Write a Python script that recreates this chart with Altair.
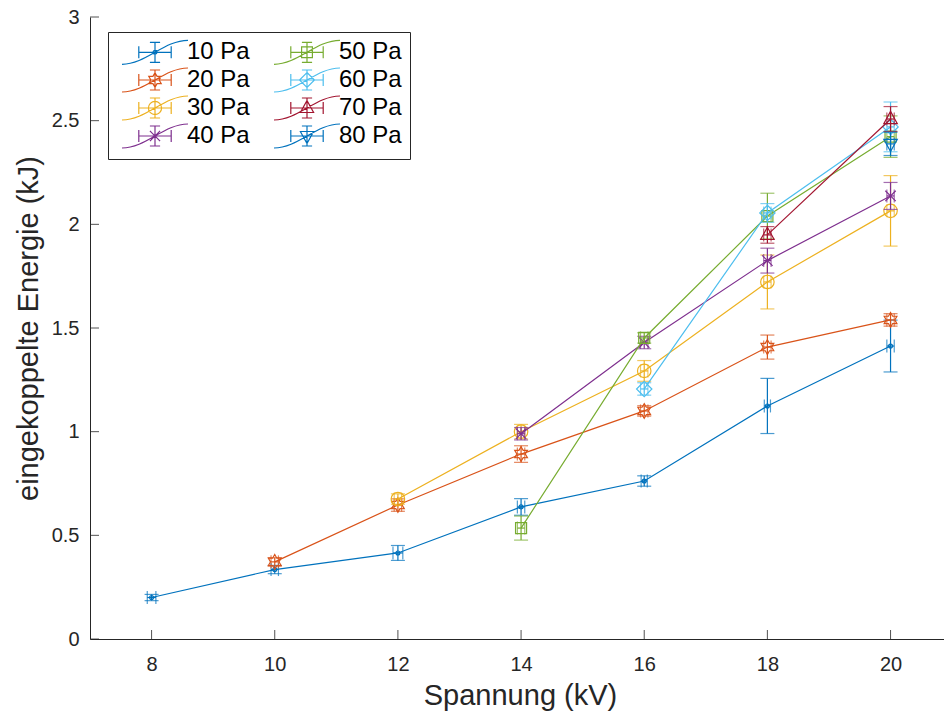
import math
import altair as alt
import pandas as pd

# ---------------- data ----------------
series_names = ["10 Pa", "20 Pa", "30 Pa", "40 Pa", "50 Pa", "60 Pa", "70 Pa", "80 Pa"]
series_colors = ["#0072BD", "#D95319", "#EDB120", "#7E2F8E",
                 "#77AC30", "#4DBEEE", "#A2142F", "#0072BD"]

x_10 = [8, 10, 12, 14, 16, 18, 20]
y_10 = [0.200, 0.335, 0.415, 0.637, 0.762, 1.124, 1.413]
yerr_10 = [0.015, 0.020, 0.036, 0.040, 0.025, 0.133, 0.125]
xerr_10 = [0.07, 0.06, 0.08, 0.06, 0.05, 0.05, 0.06]

x_20 = [10, 12, 14, 16, 18, 20]
y_20 = [0.372, 0.646, 0.892, 1.100, 1.408, 1.539]
yerr_20 = [0.020, 0.030, 0.040, 0.025, 0.058, 0.030]
xerr_20 = [0.06, 0.06, 0.06, 0.06, 0.06, 0.06]

x_30 = [12, 14, 16, 18, 20]
y_30 = [0.675, 1.000, 1.293, 1.722, 2.065]
yerr_30 = [0.025, 0.035, 0.050, 0.130, 0.170]
xerr_30 = [0.06, 0.06, 0.06, 0.06, 0.06]

x_40 = [14, 16, 18, 20]
y_40 = [0.990, 1.430, 1.825, 2.137]
yerr_40 = [0.030, 0.030, 0.060, 0.065]
xerr_40 = [0.06, 0.06, 0.06, 0.06]

x_50 = [14, 16, 18, 20]
y_50 = [0.535, 1.452, 2.040, 2.423]
yerr_50 = [0.058, 0.025, 0.110, 0.100]
xerr_50 = [0.06, 0.06, 0.06, 0.06]

x_60 = [16, 18, 20]
y_60 = [1.206, 2.055, 2.470]
yerr_60 = [0.030, 0.045, 0.120]
xerr_60 = [0.06, 0.06, 0.06]

x_70 = [18, 20]
y_70 = [1.949, 2.508]
yerr_70 = [0.040, 0.060]
xerr_70 = [0.06, 0.06]

x_80 = [20]
y_80 = [2.388]
yerr_80 = [0.056]
xerr_80 = [0.06]

x_ticks = [8, 10, 12, 14, 16, 18, 20]
y_ticks = [0, 0.5, 1, 1.5, 2, 2.5, 3]

all_x = [x_10, x_20, x_30, x_40, x_50, x_60, x_70, x_80]
all_y = [y_10, y_20, y_30, y_40, y_50, y_60, y_70, y_80]
all_yerr = [yerr_10, yerr_20, yerr_30, yerr_40, yerr_50, yerr_60, yerr_70, yerr_80]
all_xerr = [xerr_10, xerr_20, xerr_30, xerr_40, xerr_50, xerr_60, xerr_70, xerr_80]

rows = []
for name, xs, ys, yes, xes in zip(series_names, all_x, all_y, all_yerr, all_xerr):
    for xv, yv, ye, xe in zip(xs, ys, yes, xes):
        rows.append({"series": name, "x": xv, "y": yv,
                     "ylo": yv - ye, "yhi": yv + ye,
                     "xlo": xv - xe, "xhi": xv + xe})
df = pd.DataFrame(rows)

# ---------------- marker shapes (SVG paths, unit square) ----------------
def f(v):
    return f"{v:.3f}"

def circle(r, dx=0.0):
    return (f"M{f(dx + r)},0A{f(r)},{f(r)} 0 1,1 {f(dx - r)},0"
            f"A{f(r)},{f(r)} 0 1,1 {f(dx + r)},0Z")

def poly(pts, dx=0.0):
    return "M" + "L".join(f"{f(px + dx)},{f(py)}" for px, py in pts) + "Z"

def hexagram(dx=0.0, R=1.2, r=0.69):
    pts = []
    for k in range(12):
        a = math.radians(-90 + 30 * k)
        rad = R if k % 2 == 0 else r
        pts.append((rad * math.cos(a), rad * math.sin(a)))
    return poly(pts, dx)

def xmark(dx=0.0, s=0.85):
    return (f"M{f(dx - s)},{f(-s)}L{f(dx + s)},{f(s)}"
            f"M{f(dx - s)},{f(s)}L{f(dx + s)},{f(-s)}")

def markers(dx=0.0):
    return [
        circle(0.32, dx),
        hexagram(dx),
        circle(1.1, dx),
        xmark(dx),
        poly([(-0.9, -0.9), (0.9, -0.9), (0.9, 0.9), (-0.9, 0.9)], dx),
        poly([(0, -1.25), (1.25, 0), (0, 1.25), (-1.25, 0)], dx),
        poly([(0, -1.25), (1.1, 0.75), (-1.1, 0.75)], dx),
        poly([(0, 1.25), (1.1, -0.75), (-1.1, -0.75)], dx),
    ]

plot_markers = markers(0.0)

cx = 4.5
icon_base = (
    "M-1,2C3,2 6,-2 10,-2"
    f"M{cx},-1.67L{cx},1.67M{cx-0.85},-1.67L{cx+0.85},-1.67M{cx-0.85},1.67L{cx+0.85},1.67"
    f"M{cx-2.7},0L{cx+2.7},0M{cx-2.7},-1L{cx-2.7},1M{cx+2.7},-1L{cx+2.7},1"
)
legend_icons = [icon_base + m for m in markers(cx)]

# ---------------- chart ----------------
W, H = 854, 622
AX = "#262626"
FONT = "Liberation Sans"
X_TITLE = "Spannung (kV)"
Y_TITLE = "eingekoppelte Energie (kJ)"

xscale = alt.Scale(domain=[7, 20.868], nice=False, zero=False)
yscale = alt.Scale(domain=[0, 3], nice=False, zero=False)

x_axis = alt.Axis(values=x_ticks, ticks=False, tickSize=0, grid=False, format="d",
                  domainColor=AX, domainWidth=1, labelColor=AX, labelFontSize=20,
                  labelBaseline="alphabetic", labelPadding=31, labelFlush=False,
                  title=X_TITLE, titleFontSize=29, titleFontWeight="normal",
                  titleColor=AX, titleX=430, titleY=65, titleBaseline="alphabetic")
y_axis = alt.Axis(values=y_ticks, ticks=False, tickSize=0, grid=False, format="~g",
                  domainColor=AX, domainWidth=1, labelColor=AX, labelFontSize=20,
                  labelPadding=11, labelFlush=False,
                  title=Y_TITLE, titleFontSize=29,
                  titleFontWeight="normal", titleColor=AX, titleAngle=270,
                  titleX=-53, titleY=311, titleBaseline="alphabetic", titleAlign="center")


def X(field):
    return alt.X(field, scale=xscale, axis=x_axis, title=X_TITLE)


def Y(field):
    return alt.Y(field, scale=yscale, axis=y_axis, title=Y_TITLE)


base = alt.Chart(df)
layers = []

xt = pd.DataFrame({"v": x_ticks})
yt = pd.DataFrame({"v": y_ticks})
layers.append(alt.Chart(xt).mark_rule(color=AX, strokeWidth=0.8).encode(
    x=X("v:Q"), y=alt.value(H), y2=alt.value(H - 9)))
layers.append(alt.Chart(yt).mark_rule(color=AX, strokeWidth=0.8).encode(
    y=Y("v:Q"), x=alt.value(0), x2=alt.value(9)))

for name, col, mk in zip(series_names, series_colors, plot_markers):
    sub = base.transform_filter(alt.datum.series == name)
    layers.append(sub.mark_line(color=col, strokeWidth=1.2).encode(
        x=X("x:Q"), y=Y("y:Q"), order="x:Q"))
    layers.append(sub.mark_errorbar(ticks=True, size=14, thickness=1.2, color=col).encode(
        x=X("x:Q"), y=Y("ylo:Q"), y2="yhi:Q"))
    layers.append(sub.mark_errorbar(ticks=True, size=13, thickness=1.2, color=col).encode(
        x=X("xlo:Q"), x2="xhi:Q", y=Y("y:Q")))
    layers.append(sub.mark_point(shape=mk, size=150, filled=False, strokeWidth=1.2,
                                 color=col, opacity=1).encode(
        x=X("x:Q"), y=Y("y:Q")))

legend_df = df.groupby("series", as_index=False).first()
legend_layer = alt.Chart(legend_df).mark_point(opacity=0, filled=False).encode(
    x=X("x:Q"),
    y=Y("y:Q"),
    stroke=alt.Stroke("series:N", scale=alt.Scale(domain=series_names, range=series_colors),
                      legend=alt.Legend(title=None)),
    shape=alt.Shape("series:N", scale=alt.Scale(domain=series_names, range=legend_icons),
                    legend=alt.Legend(title=None)),
)
layers.append(legend_layer)

chart = alt.layer(*layers).properties(
    width=W, height=H,
    padding={"left": 90, "top": 17, "right": 0, "bottom": 74},
    autosize=alt.AutoSizeParams(type="none"),
).configure(
    font=FONT,
).configure_view(
    stroke=None,
).configure_legend(
    orient="none", legendX=18, legendY=15, direction="vertical", columns=2,
    labelFont=FONT, labelFontSize=24, labelColor="#000000", labelLimit=0,
    labelOffset=47, columnPadding=18, rowPadding=-2,
    symbolSize=144, symbolStrokeWidth=1.2, symbolOpacity=1,
    symbolFillColor="transparent",
    strokeColor=AX, fillColor="#ffffff", padding=8, cornerRadius=0,
)

chart.save("out.html", embed_options={"renderer": "svg", "actions": False})
